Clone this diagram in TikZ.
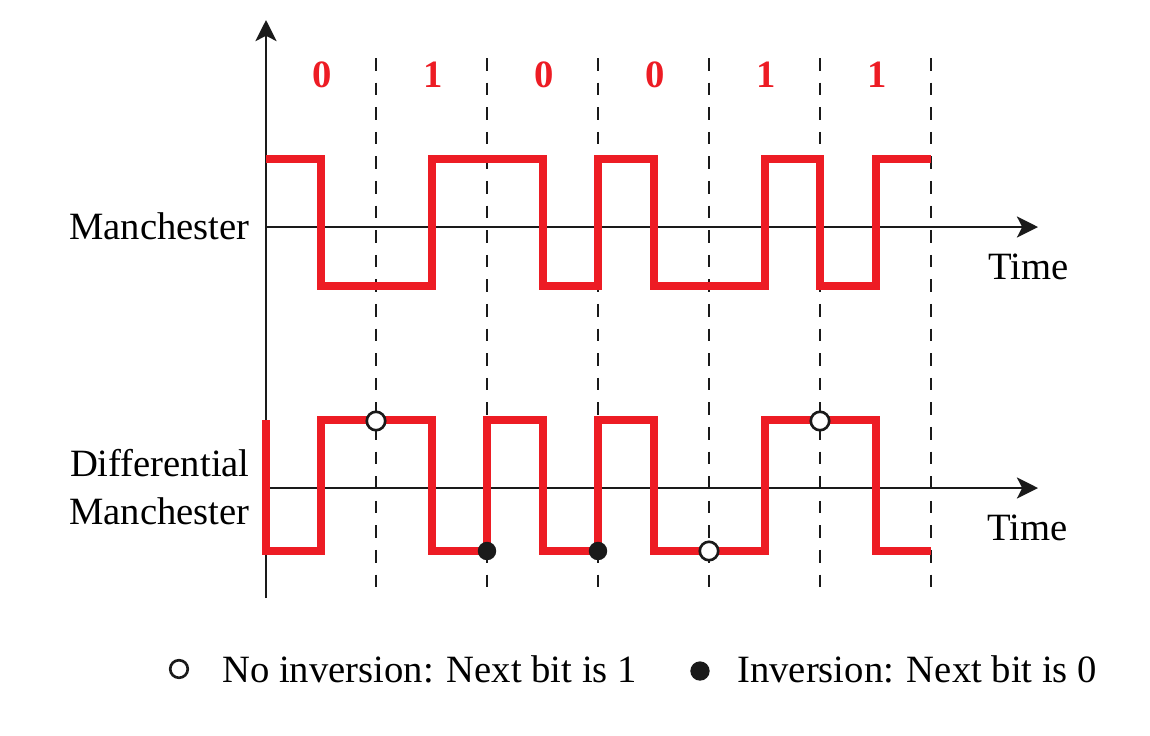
\documentclass[tikz,border=0pt]{standalone}
\usepackage{xcolor}
\usepackage{fontspec}
\usepackage{tikz}
\usetikzlibrary{arrows.meta}
\setmainfont{Liberation Serif}
\definecolor{SignalRed}{HTML}{ED1C24}
\definecolor{AxisBlack}{HTML}{1A1A1A}

\begin{document}
\begin{tikzpicture}[x=0.02cm, y=-0.02cm, inner sep=0pt, font=\fontsize{22}{27}\selectfont,
        axis/.style={draw=AxisBlack, line width=1.3pt, -{Stealth[length=12pt, width=12pt, inset=3pt]}},
        bitline/.style={draw=AxisBlack, line width=1.2pt, dash pattern=on 7.2pt off 6.8pt},
        signal/.style={draw=SignalRed, line width=5pt, line join=miter},
        bitlabel/.style={text=SignalRed, font=\fontsize{22}{27}\selectfont\bfseries, anchor=base},
        keepdot/.style={circle, draw=AxisBlack, fill=white, line width=1.5pt, minimum size=10.5pt},
        flipdot/.style={circle, fill=AxisBlack, minimum size=10.5pt}]
        \useasboundingbox (0,0) rectangle (1150,735);
        \coordinate (Origin) at (266,598);
        \coordinate (Top) at (266,20);
        \coordinate (ManStart) at (266,227);
        \coordinate (ManEnd) at (1038,227);
        \coordinate (DiffStart) at (266,488);
        \coordinate (DiffEnd) at (1038,488);
        \foreach \x in {376,487,598,709,820,931}
            \draw [bitline] (\x,58) -- (\x,598);
        \draw [axis] (Origin) -- (Top);
        \draw [axis] (ManStart) -- (ManEnd);
        \draw [axis] (DiffStart) -- (DiffEnd);
        \foreach \b [count=\i] in {0,1,0,0,1,1}
            \node (Bit\i) [bitlabel] at ({267+111*(\i-0.5)},87) {\b};
        \node (LabelMan) [anchor=base east] at (250,239) {Manchester};
        \node (LabelDiff) [anchor=base east, align=right] at (250,524) {Differential\\Manchester};
        \node (TimeMan) [anchor=base west] at (988,279) {Time};
        \node (TimeDiff) [anchor=base west] at (987,540) {Time};
        \draw [signal] (266,159) -- (321,159) -- (321,286) -- (432,286) -- (432,159) -- (543,159) -- (543,286)
            -- (598,286) -- (598,159) -- (654,159) -- (654,286) -- (765,286) -- (765,159) -- (820,159)
            -- (820,286) -- (876,286) -- (876,159) -- (931,159);
        \draw [signal] (266,420) -- (266,551) -- (321,551) -- (321,420) -- (432,420) -- (432,551) -- (487,551)
            -- (487,420) -- (543,420) -- (543,551) -- (598,551) -- (598,420) -- (654,420) -- (654,551)
            -- (765,551) -- (765,420) -- (876,420) -- (876,551) -- (931,551);
        \node (Keep1) [keepdot] at (376,421) {};
        \node (Keep2) [keepdot] at (709,551) {};
        \node (Keep3) [keepdot] at (820,421) {};
        \node (Flip1) [flipdot] at (487,551) {};
        \node (Flip2) [flipdot] at (598,551) {};
        \node (LegendKeep) [keepdot, minimum size=10pt] at (179,669) {};
        \node (LegendKeepText) [anchor=base west] at (222,682) {No inversion: Next bit is 1};
        \node (LegendFlip) [flipdot, minimum size=11pt] at (700,671) {};
        \node (LegendFlipText) [anchor=base west] at (737,682) {Inversion: Next bit is 0};
    \end{tikzpicture}
\end{document}
